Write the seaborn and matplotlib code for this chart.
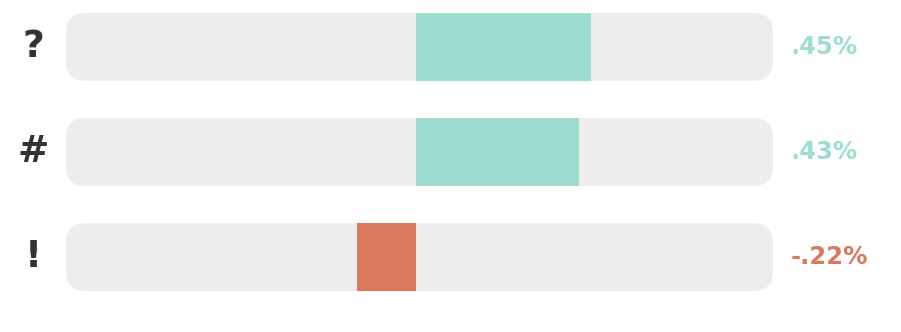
import matplotlib
matplotlib.use("Agg")
import matplotlib.pyplot as plt
from matplotlib.patches import FancyBboxPatch
import seaborn as sns
import pandas as pd

# ---- data ----
categories = ["?", "#", "!"]
bar_values = [0.50, 0.466, -0.169]      # bar extents (track spans -1 .. 1.02)
label_values = [0.45, 0.43, -0.22]     # printed percentages
track_min = [-1.0, -1.0, -1.0]
track_max = [1.02, 1.02, 1.02]

TEAL = "#9DDDD1"
ORANGE = "#D9775F"
GREY = "#EDEDED"
DARK = "#333333"

sns.set_theme(style="white")
plt.rcParams["font.family"] = ["DejaVu Sans"]

fig = plt.figure(figsize=(9.01, 3.32), dpi=100)
ax = fig.add_axes([0, 0, 1, 1])

df = pd.DataFrame({"cat": categories, "val": bar_values,
                   "lo": track_min, "hi": track_max})

# grey tracks (two halves, later merged into one rounded bar per row)
sns.barplot(data=df, x="hi", y="cat", orient="h", color=GREY, width=0.648,
            saturation=1, ax=ax, linewidth=0)
sns.barplot(data=df, x="lo", y="cat", orient="h", color=GREY, width=0.648,
            saturation=1, ax=ax, linewidth=0)

px_per_x = 350.0
px_per_y = 105.0
rows = {}
for p in list(ax.patches):
    y0 = round(p.get_y(), 6)
    x0, x1 = p.get_x(), p.get_x() + p.get_width()
    lo, hi = min(x0, x1), max(x0, x1)
    if y0 in rows:
        rows[y0] = (min(rows[y0][0], lo), max(rows[y0][1], hi), p.get_height())
    else:
        rows[y0] = (lo, hi, p.get_height())
    p.remove()

r = 20 / px_per_x
for y0, (lo, hi, h) in rows.items():
    ax.add_patch(FancyBboxPatch((lo, y0), hi - lo, h,
                                boxstyle=f"round,pad=0,rounding_size={r}",
                                mutation_aspect=px_per_x / px_per_y,
                                facecolor=GREY, edgecolor="none", zorder=1))

# coloured value bars
colors = [TEAL if v >= 0 else ORANGE for v in bar_values]
sns.barplot(data=df, x="val", y="cat", orient="h", hue="cat", palette=colors,
            legend=False, width=0.648, saturation=1, ax=ax, linewidth=0, zorder=2)

# labels
for i, (c, lv) in enumerate(zip(categories, label_values)):
    col = TEAL if lv >= 0 else ORANGE
    s = f"{lv:.2f}%".replace("0.", ".")
    ax.text(track_max[i] + 0.05, i, s, ha="left", va="center",
            fontsize=17.5, fontweight="bold", color=col)
    ax.text(-1.093, i, c, ha="center", va="center", fontsize=27,
            fontweight="bold", color=DARK)

ax.set_xlim(-416 / px_per_x, (901 - 416) / px_per_x)
ax.set_ylim((332 - 47) / px_per_y, -47 / px_per_y)
ax.axis("off")

fig.savefig("out.png", dpi=100)
